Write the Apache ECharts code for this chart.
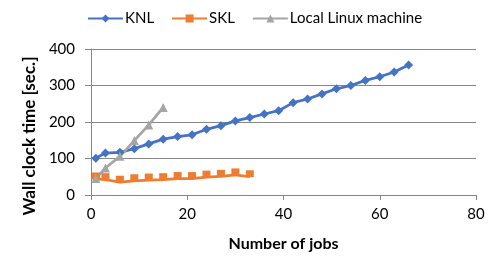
<!DOCTYPE html>
<html><head><meta charset="utf-8">
<script src="https://cdn.jsdelivr.net/npm/echarts@6/dist/echarts.min.js"></script>
<style>html,body{margin:0;padding:0;background:#fff}#c{width:502px;height:272px}</style>
</head><body><div id="c"></div>
<script>
const knlJobs = [1,3,6,9,12,15,18,21,24,27,30,33,36,39,42,45,48,51,54,57,60,63,66];
const knlTime = [101,115,117,127,140,153,160,165,180,190,203,212,222,231,253,263,277,291,300,314,324,337,356];
const sklJobs = [1,3,6,9,12,15,18,21,24,27,30,33];
const sklTime = [44,42,35,39,41,42,45,45,49,51,55,50];
const localJobs = [1,3,6,9,12,15];
const localTime = [45,74,106,149,192,240];
const xTicks = [0,20,40,60,80];
const yTicks = [0,100,200,300,400];

const F = 'Lato, "Liberation Sans", sans-serif';
const pair = (xs, ys) => xs.map((x, i) => [x, ys[i]]);
const chart = echarts.init(document.getElementById('c'), null, {renderer: 'canvas'});
chart.setOption({
  animation: false,
  textStyle: {fontFamily: F},
  grid: {left: 91, right: 26, top: 49, bottom: 77, containLabel: false},
  legend: {
    top: 6, left: 82, itemWidth: 35, itemHeight: 10, itemGap: 17,
    textStyle: {fontFamily: F, fontSize: 15, color: '#000', padding: [0,0,0,-3]},
    data: ['KNL', 'SKL', 'Local Linux machine']
  },
  xAxis: {
    type: 'value', min: xTicks[0], max: xTicks[xTicks.length-1], interval: 20,
    name: 'Number of jobs', nameLocation: 'middle', nameGap: 41,
    nameTextStyle: {fontFamily: F, fontSize: 16, fontWeight: 'bold', color: '#000'},
    axisLine: {show: true, lineStyle: {color: '#868686', width: 1}},
    axisTick: {show: true, length: 5, lineStyle: {color: '#868686'}},
    axisLabel: {fontFamily: F, fontSize: 15, color: '#000', margin: 12},
    splitLine: {show: false}
  },
  yAxis: {
    type: 'value', min: yTicks[0], max: yTicks[yTicks.length-1], interval: 100,
    name: 'Wall clock time [sec.]', nameLocation: 'middle', nameGap: 52, nameRotate: 90,
    nameTextStyle: {fontFamily: F, fontSize: 17, fontWeight: 'bold', color: '#000', padding: [0, 28, 0, 0]},
    axisLine: {show: true, lineStyle: {color: '#868686', width: 1}},
    axisTick: {show: true, length: 6, lineStyle: {color: '#868686'}},
    axisLabel: {fontFamily: F, fontSize: 15, color: '#000', margin: 16},
    splitLine: {show: true, lineStyle: {color: '#868686', width: 1}}
  },
  series: [
    {name: 'KNL', type: 'line', data: pair(knlJobs, knlTime), symbol: 'diamond', symbolSize: 9,
     lineStyle: {color: '#4472C4', width: 2.75}, itemStyle: {color: '#4472C4'}},
    {name: 'SKL', type: 'line', data: pair(sklJobs, sklTime), symbol: 'rect', symbolSize: [8,7], symbolOffset: [0,-3],
     lineStyle: {color: '#ED7D31', width: 2.75}, itemStyle: {color: '#ED7D31'}},
    {name: 'Local Linux machine', type: 'line', data: pair(localJobs, localTime), symbol: 'triangle', symbolSize: 9,
     lineStyle: {color: '#A5A5A5', width: 2.75}, itemStyle: {color: '#A5A5A5'}}
  ]
});
</script></body></html>
